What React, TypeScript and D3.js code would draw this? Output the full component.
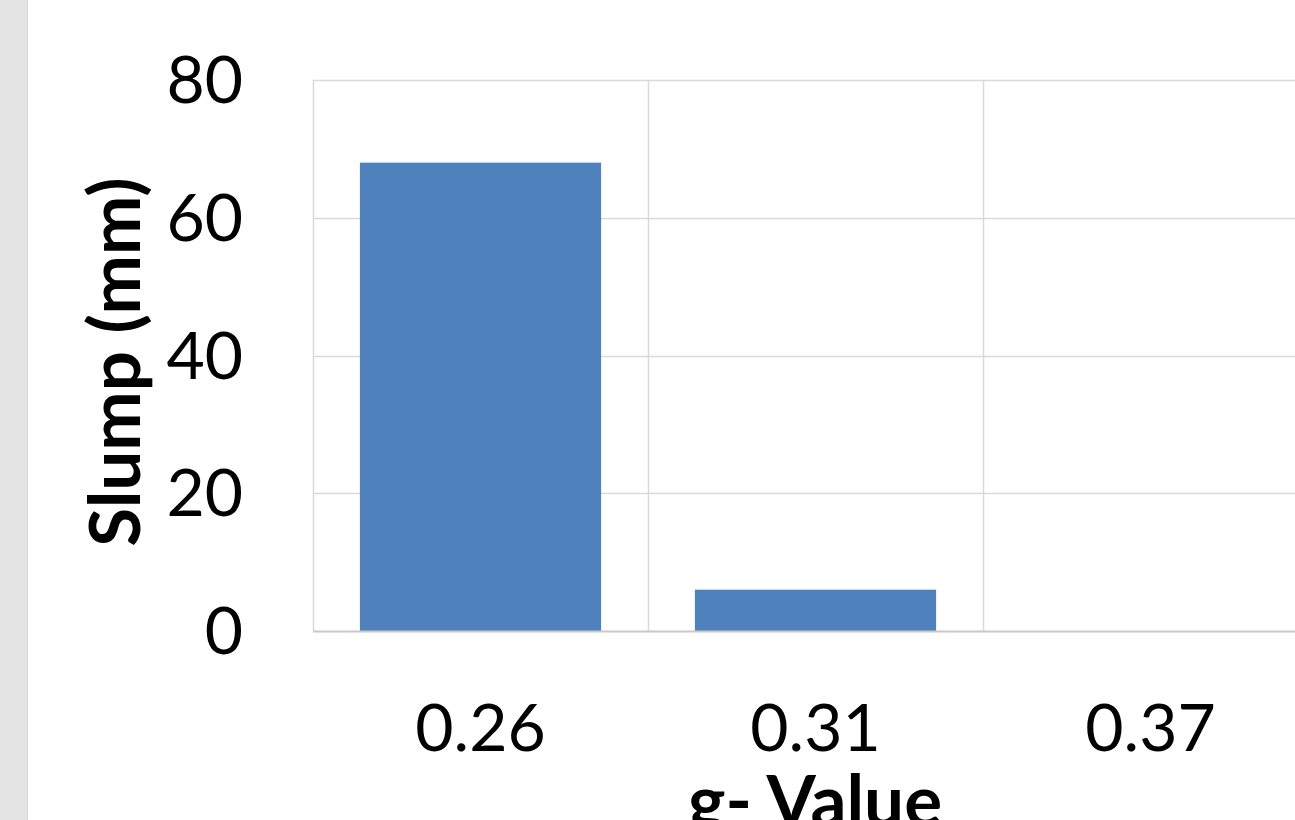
import React, { useEffect, useRef } from 'react';
import * as d3 from 'd3';

const categories = ['0.26', '0.31', '0.37'];
const slump = [68, 6, 0];
const yTicks = [0, 20, 40, 60, 80];

const W = 1295;
const H = 820;

const App: React.FC = () => {
  const svgRef = useRef<SVGSVGElement>(null);

  useEffect(() => {
    if (!svgRef.current) return;
    const svg = d3.select(svgRef.current);
    svg.selectAll('*').remove();

    const font = 'Lato, "Open Sans", sans-serif';
    const plot = { left: 313, right: 1318, top: 80, bottom: 631 };

    const x = d3.scaleBand<string>()
      .domain(categories)
      .range([plot.left, plot.right])
      .paddingInner(0.28)
      .paddingOuter(0.14);

    const y = d3.scaleLinear().domain([0, 80]).range([plot.bottom, plot.top]);

    svg.append('rect').attr('width', W).attr('height', H).attr('fill', '#fff');
    // grey strip at the left edge
    svg.append('rect').attr('width', 27).attr('height', H).attr('fill', '#e4e4e4');
    svg.append('line').attr('x1', 27.5).attr('x2', 27.5).attr('y1', 0).attr('y2', H)
      .attr('stroke', '#d6d6d6').attr('stroke-width', 1);

    // horizontal grid
    svg.append('g')
      .selectAll('line')
      .data(yTicks.filter(t => t > 0))
      .join('line')
      .attr('x1', plot.left).attr('x2', W)
      .attr('y1', d => Math.round(y(d)) + 0.5).attr('y2', d => Math.round(y(d)) + 0.5)
      .attr('stroke', '#d9d9d9').attr('stroke-width', 1.5);

    // vertical grid at category boundaries
    const step = x.step();
    const bounds = d3.range(categories.length + 1).map(i => plot.left + i * step);
    svg.append('g')
      .selectAll('line')
      .data(bounds)
      .join('line')
      .attr('x1', d => Math.round(d) + 0.5).attr('x2', d => Math.round(d) + 0.5)
      .attr('y1', plot.top).attr('y2', plot.bottom)
      .attr('stroke', '#d9d9d9').attr('stroke-width', 1.5);

    // bars
    svg.append('g')
      .selectAll('rect')
      .data(categories)
      .join('rect')
      .attr('x', d => x(d)!)
      .attr('width', x.bandwidth())
      .attr('y', (d, i) => y(slump[i]))
      .attr('height', (d, i) => y(0) - y(slump[i]))
      .attr('fill', '#4f81bd');

    // x axis line
    svg.append('line')
      .attr('x1', plot.left).attr('x2', W)
      .attr('y1', plot.bottom + 0.5).attr('y2', plot.bottom + 0.5)
      .attr('stroke', '#c8c8c8').attr('stroke-width', 2);

    // y tick labels
    svg.append('g')
      .selectAll('text')
      .data(yTicks)
      .join('text')
      .attr('x', 243)
      .attr('y', d => y(d) + 23)
      .attr('text-anchor', 'end')
      .attr('font-family', font)
      .attr('font-size', 66)
      .attr('fill', '#000')
      .text(d => String(d));

    // x tick labels
    svg.append('g')
      .selectAll('text')
      .data(categories)
      .join('text')
      .attr('x', d => x(d)! + x.bandwidth() / 2)
      .attr('y', 751)
      .attr('text-anchor', 'middle')
      .attr('font-family', font)
      .attr('font-size', 66)
      .attr('fill', '#000')
      .text(d => d);

    // axis titles
    svg.append('text')
      .attr('x', 815)
      .attr('y', 826)
      .attr('text-anchor', 'middle')
      .attr('font-family', font)
      .attr('font-weight', 'bold')
      .attr('font-size', 71)
      .text('g- Value');

    svg.append('text')
      .attr('transform', `translate(140,362) rotate(-90)`)
      .attr('text-anchor', 'middle')
      .attr('font-family', font)
      .attr('font-weight', 'bold')
      .attr('font-size', 71)
      .text('Slump (mm)');
  }, []);

  return (
    <div style={{ position: 'absolute', left: 0, top: 0, width: W, height: H, overflow: 'hidden' }}>
      <svg ref={svgRef} width={W} height={H} style={{ display: 'block' }} />
    </div>
  );
};

export default App;
